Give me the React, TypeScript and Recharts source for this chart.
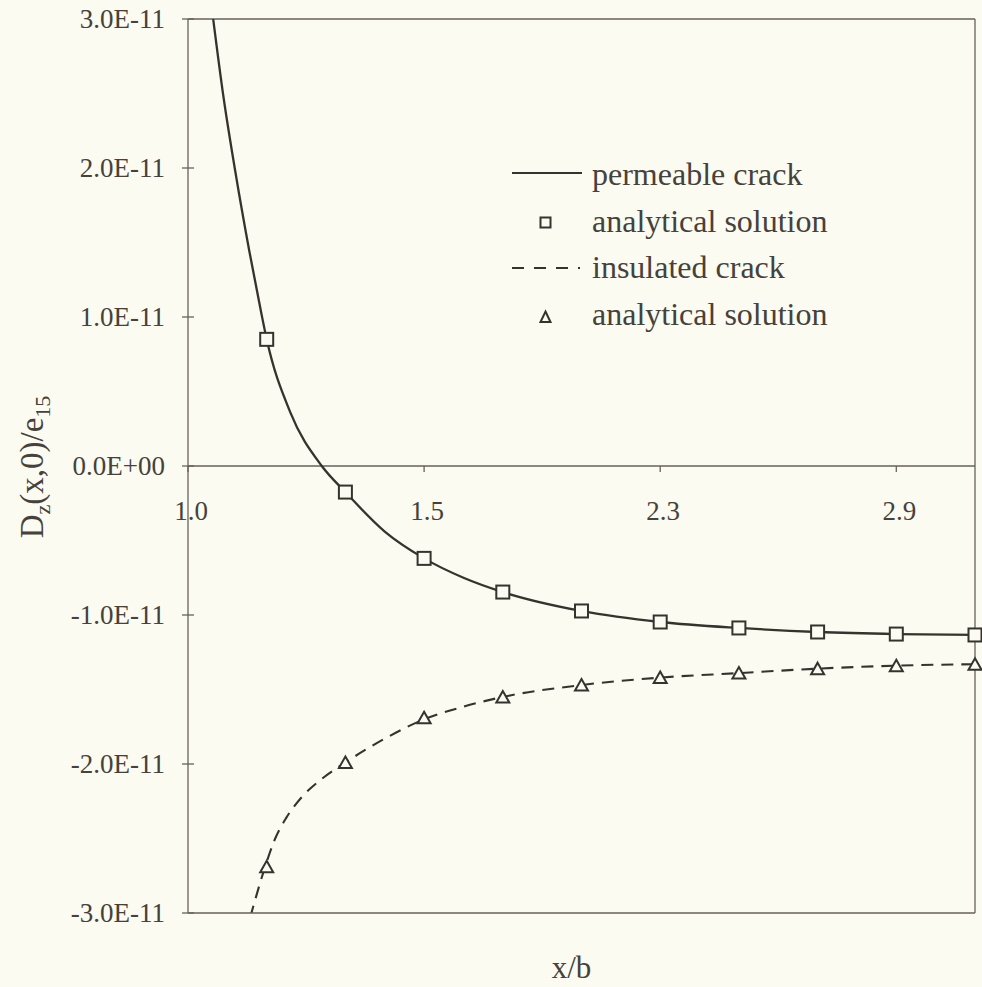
import React from 'react';
import { ComposedChart, Line, Scatter, XAxis, YAxis, ReferenceLine, ReferenceDot, Legend } from 'recharts';

// x positions are category positions of the original chart (0 = "1.0" ... 10 = right edge)
const permeableCurveX = [0.32, 0.45, 0.6, 0.78, 0.93, 1.0, 1.3, 1.7, 2.0, 2.5, 3.0, 3.5, 4, 5, 6, 7, 8, 9, 10];
const permeableCurveY = [3.0e-11, 2.48e-11, 1.98e-11, 1.44e-11, 1.03e-11, 0.85e-11, 0.36e-11, 0.0, -0.175e-11, -0.44e-11, -0.62e-11, -0.75e-11, -0.846e-11, -0.973e-11, -1.047e-11, -1.087e-11, -1.114e-11, -1.128e-11, -1.134e-11];

const insulatedCurveX = [0.79, 0.98, 1.1, 1.25, 1.45, 1.7, 2.0, 2.5, 3.0, 3.5, 4, 5, 6, 7, 8, 9, 10];
const insulatedCurveY = [-3.03e-11, -2.69e-11, -2.51e-11, -2.36e-11, -2.22e-11, -2.1e-11, -1.99e-11, -1.83e-11, -1.7e-11, -1.615e-11, -1.55e-11, -1.47e-11, -1.42e-11, -1.39e-11, -1.36e-11, -1.34e-11, -1.33e-11];

const markerX = [1, 2, 3, 4, 5, 6, 7, 8, 9, 10];
const permeableAnalytical = [0.85e-11, -0.175e-11, -0.62e-11, -0.846e-11, -0.973e-11, -1.047e-11, -1.087e-11, -1.114e-11, -1.128e-11, -1.134e-11];
const insulatedAnalytical = [-2.69e-11, -1.99e-11, -1.69e-11, -1.55e-11, -1.47e-11, -1.42e-11, -1.39e-11, -1.36e-11, -1.34e-11, -1.33e-11];

const xTickPos = [0, 3, 6, 9];
const xTickLabels = ['1.0', '1.5', '2.3', '2.9'];
const yTicks = [3e-11, 2e-11, 1e-11, 0, -1e-11, -2e-11, -3e-11];
const yTickLabels = ['3.0E-11', '2.0E-11', '1.0E-11', '0.0E+00', '-1.0E-11', '-2.0E-11', '-3.0E-11'];

const legendLabels = ['permeable crack', 'analytical solution', 'insulated crack', 'analytical solution'];

const toPts = (xs: number[], ys: number[]) => xs.map((x, i) => ({ x, y: ys[i] }));
const permeableCurve = toPts(permeableCurveX, permeableCurveY);
const insulatedCurve = toPts(insulatedCurveX, insulatedCurveY);
const permeableMarks = toPts(markerX, permeableAnalytical);
const insulatedMarks = toPts(markerX, insulatedAnalytical);

const FONT = '"Liberation Serif", "Times New Roman", serif';
const TEXT = '#46413b';
const AXIS = '#67625b';
const CURVE = '#36332e';
const BG = '#fbfbf2';
const TICK_SIZE = 6;
const TICK_MARGIN = 17;

const YTick = (props: any) => {
  const { x, y, payload } = props;
  const ax = x + TICK_SIZE + TICK_MARGIN;
  const idx = yTicks.findIndex((v) => Math.abs(v - payload.value) < 1e-15);
  return (
    <g>
      <line x1={ax - 6} x2={ax + 6} y1={y} y2={y} stroke={AXIS} strokeWidth={1.3} />
      <text x={x} y={y} textAnchor="end" dominantBaseline="central" fontFamily={FONT} fontSize={27} fill={TEXT}>
        {idx >= 0 ? yTickLabels[idx] : ''}
      </text>
    </g>
  );
};

const Square = (props: any) => {
  const { cx, cy } = props;
  if (cx == null || cy == null) return null;
  return <rect x={cx - 6.5} y={cy - 6.5} width={13} height={13} fill={BG} stroke={CURVE} strokeWidth={2} />;
};

const Triangle = (props: any) => {
  const { cx, cy } = props;
  if (cx == null || cy == null) return null;
  return <path d={`M${cx},${cy - 6} L${cx + 6.5},${cy + 5.5} L${cx - 6.5},${cy + 5.5} Z`} fill={BG} stroke={CURVE} strokeWidth={2} />;
};

const LegendBox = () => {
  const ts = { fontFamily: FONT, fontSize: 32, fill: TEXT } as const;
  return (
    <svg width={380} height={200} style={{ display: 'block' }}>
      <line x1={12} x2={82} y1={28} y2={28} stroke={CURVE} strokeWidth={2} />
      <text x={92} y={40} {...ts}>{legendLabels[0]}</text>
      <rect x={40.5} y={72.5} width={10} height={10} fill={BG} stroke={CURVE} strokeWidth={2} />
      <text x={92} y={87} {...ts}>{legendLabels[1]}</text>
      <line x1={12} x2={80} y1={123} y2={123} stroke={CURVE} strokeWidth={2} strokeDasharray="12 10" />
      <text x={92} y={133} {...ts}>{legendLabels[2]}</text>
      <path d="M45.5,166.5 L50.5,177 L40.5,177 Z" fill={BG} stroke={CURVE} strokeWidth={2} />
      <text x={92} y={180} {...ts}>{legendLabels[3]}</text>
    </svg>
  );
};

const XTickMark = (label: string) => (props: any) => {
  const { cx, cy } = props;
  if (cx == null || cy == null) return null;
  return (
    <g>
      <line x1={cx} x2={cx} y1={cy} y2={cy + 6} stroke={AXIS} strokeWidth={1.3} />
      <text x={cx + 3} y={cy + 45} textAnchor="middle" dominantBaseline="central" fontFamily={FONT} fontSize={27} fill={TEXT}>
        {label}
      </text>
    </g>
  );
};

export default function App() {
  return (
    <div style={{ position: 'absolute', left: 0, top: 0, width: 982, height: 987, background: BG }}>
      <ComposedChart width={982} height={987} margin={{ top: 19, right: 7, bottom: 0, left: 0 }}>
        <XAxis
          type="number"
          dataKey="x"
          domain={[0, 10]}
          ticks={[]}
          tick={false}
          tickLine={false}
          height={74}
          axisLine={{ stroke: AXIS, strokeWidth: 1.3 }}
          label={{
            content: (p: any) => {
              const vb = p.viewBox;
              return (
                <text x={vb.x + vb.width / 2 - 10} y={978} textAnchor="middle" fontFamily={FONT} fontSize={31} fill={TEXT}>
                  x/b
                </text>
              );
            },
          }}
        />
        <YAxis
          type="number"
          dataKey="y"
          domain={[-3e-11, 3e-11]}
          ticks={yTicks}
          allowDataOverflow
          width={188}
          tickSize={TICK_SIZE}
          tickMargin={TICK_MARGIN}
          tickLine={false}
          tick={<YTick />}
          axisLine={{ stroke: AXIS, strokeWidth: 1.3 }}
          interval={0}
          label={{
            content: () => (
              <text transform="translate(43,467) rotate(-90)" textAnchor="middle" fontFamily={FONT} fontSize={33} fill={TEXT}>
                D<tspan fontSize={22} dy={7}>z</tspan>
                <tspan dy={-7}>(x,0)/e</tspan>
                <tspan fontSize={22} dy={7}>15</tspan>
              </text>
            ),
          }}
        />
        <ReferenceLine y={0} stroke={AXIS} strokeWidth={1.3} />
        <ReferenceLine y={3e-11} stroke={AXIS} strokeWidth={1.3} />
        <ReferenceLine x={10} stroke={AXIS} strokeWidth={1.3} />
        {xTickPos.map((p, i) => (
          <ReferenceDot key={i} x={p} y={0} r={0} shape={XTickMark(xTickLabels[i])} />
        ))}
        <Line data={permeableCurve} dataKey="y" type="monotone" stroke={CURVE} strokeWidth={2.3} dot={false} isAnimationActive={false} />
        <Line data={insulatedCurve} dataKey="y" type="monotone" stroke={CURVE} strokeWidth={2.1} strokeDasharray="12 8" dot={false} isAnimationActive={false} />
        <Scatter data={permeableMarks} dataKey="y" shape={<Square />} isAnimationActive={false} />
        <Scatter data={insulatedMarks} dataKey="y" shape={<Triangle />} isAnimationActive={false} />
        <Legend
          layout="vertical"
          align="center"
          verticalAlign="middle"
          content={() => <LegendBox />}
          wrapperStyle={{ left: 500, top: 145, width: 380, height: 200 }}
        />
      </ComposedChart>
    </div>
  );
}
